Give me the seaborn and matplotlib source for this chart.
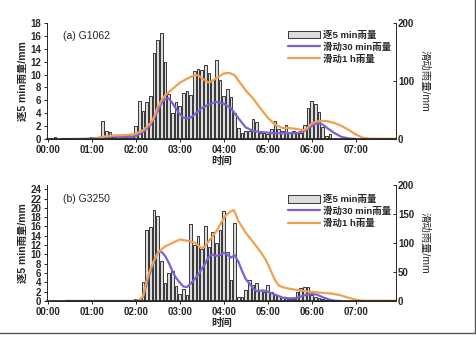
import matplotlib
matplotlib.use('Agg')
import matplotlib.pyplot as plt
import seaborn as sns
from matplotlib.patches import Patch
from matplotlib.lines import Line2D

# ---------------- data (time in minutes after 00:00) ----------------
a_bar_t = [10, 25, 60, 75, 80, 85, 90, 95, 100, 105, 110, 115, 120, 125, 130, 135, 140, 145,
           150, 155, 160, 165, 170, 175, 180, 185, 190, 195, 200, 205, 210, 215, 220, 225,
           230, 235, 240, 245, 250, 255, 260, 265, 270, 275, 280, 285, 290, 295, 300, 305,
           310, 315, 320, 325, 330, 335, 340, 345, 350, 355, 360, 365, 370, 375, 380, 385, 445]
a_bar_v = [0.25, 0.1, 0.3, 2.8, 1.3, 1.1, 0.3, 0.4, 0.3, 0.5, 0.6, 0.5, 2.0, 5.9, 4.3, 5.8, 6.7, 13.4,
           15.3, 16.5, 11.9, 7.0, 4.1, 5.7, 5.1, 7.2, 7.4, 6.9, 10.6, 10.8, 10.7, 11.5, 10.2, 9.2,
           12.2, 9.1, 6.6, 7.8, 6.5, 4.0, 1.7, 0.9, 1.3, 1.2, 3.1, 2.6, 1.0, 0.9, 0.7, 1.5,
           2.8, 1.5, 1.2, 2.1, 1.1, 1.2, 1.1, 1.0, 2.2, 4.8, 5.9, 5.4, 4.2, 1.8, 0.5, 0.8, 0.2]
a_30_t = [20, 40, 60, 70, 80, 90, 100, 110, 120, 130, 140, 150, 155, 160, 165, 170, 175, 180,
          185, 190, 195, 200, 210, 220, 230, 240, 250, 260, 270, 280, 290, 300, 310, 320, 330,
          340, 350, 360, 365, 370, 375, 380, 390, 400, 410, 420]
a_30_v = [0, 0, 0.5, 2, 4, 4.5, 3.5, 3, 5, 12, 24, 48, 62, 69, 70, 62, 52, 43,
          37, 35, 37, 42, 53, 60, 64, 61, 53, 36, 20, 14, 12, 11, 10, 10, 10,
          10, 14, 22, 26, 27, 25, 20, 11, 4, 1, 0]
a_60_t = [58, 70, 80, 90, 100, 110, 120, 130, 140, 145, 150, 155, 160, 170, 180, 190, 200, 205,
          210, 220, 230, 240, 248, 255, 260, 270, 280, 290, 300, 310, 320, 330, 340, 350, 355,
          360, 370, 380, 390, 400, 410, 420, 430, 440, 475]
a_60_v = [0, 2, 5, 6, 6.5, 7, 9, 15, 27, 38, 55, 66, 75, 86, 97, 104, 110, 110,
          105, 97, 105, 113, 114, 110, 101, 84, 70, 53, 37, 25, 19, 19, 17, 15, 20,
          27, 31, 31, 28, 23, 16, 8, 2, 0.5, 0.5]

b_bar_t = [120, 125, 130, 135, 140, 145, 150, 155, 160, 165, 170, 175, 180, 185, 190, 195, 200,
           205, 210, 215, 220, 225, 230, 235, 240, 245, 250, 255, 260, 265, 270, 275, 280, 285,
           290, 295, 300, 305, 310, 315, 320, 325, 330, 335, 340, 345, 350, 355, 360, 365, 370,
           375, 380]
b_bar_v = [0.5, 0.2, 4.0, 15.3, 15.9, 19.6, 18.3, 8.6, 3.8, 6.0, 6.5, 3.2, 1.6, 2.5, 1.2, 16.5, 12.0,
           13.9, 11.2, 16.0, 11.7, 14.9, 12.4, 15.3, 19.3, 10.5, 4.5, 16.7, 0.9, 0.8, 2.4, 4.5, 3.4, 3.9,
           2.4, 2.0, 3.4, 2.0, 1.3, 1.1, 0.8, 0.6, 0.4, 0.4, 2.0, 2.7, 2.9, 3.1, 1.3, 0.9, 0.6,
           0.4, 0.3]
b_30_t = [25, 60, 90, 120, 125, 130, 135, 140, 145, 150, 155, 160, 165, 170, 175, 180, 185, 190,
          195, 200, 205, 210, 215, 220, 225, 230, 235, 240, 245, 250, 255, 260, 265, 270, 275,
          280, 285, 290, 295, 300, 310, 320, 330, 340, 350, 360, 367, 376, 386, 392, 400]
b_30_v = [0, 0, 0, 0, 1, 7, 30, 50, 68, 84, 85, 78, 66, 52, 40, 32, 25, 24,
          30, 37, 45, 55, 65, 77, 80, 78, 79, 83, 80, 75, 79, 68, 52, 38, 30,
          22, 17, 18, 18, 16, 11, 6, 4.6, 5, 10, 12, 11, 6, 1.7, 0.5, 0]
b_60_t = [58, 90, 120, 125, 130, 135, 140, 145, 150, 155, 160, 170, 180, 190, 200, 210, 215,
          220, 225, 230, 240, 245, 250, 254, 260, 265, 270, 276, 283, 290, 297, 303, 310, 315,
          320, 330, 345, 358, 372, 386, 399, 413, 422, 430, 475]
b_60_v = [0, 0, 0, 2, 8, 36, 55, 70, 82, 89, 94, 100, 106, 104, 101, 91, 95,
          104, 112, 120, 143, 150, 155, 157, 138, 128, 118, 108, 97, 85, 72, 56, 36, 27,
          24, 21, 18, 16, 14.4, 13, 10, 4.6, 1.7, 0.5, 0.5]

hour_ticks = [0, 60, 120, 180, 240, 300, 360, 420]
hour_labels = ['00:00', '01:00', '02:00', '03:00', '04:00', '05:00', '06:00', '07:00']
panel_titles = ['(a) G1062', '(b) G3250']
legend_labels = ['逐5 min雨量', '滑动30 min雨量', '滑动1 h雨量']
left_label = '逐5 min雨量/mm'
right_label = '滑动雨量/mm'
x_label = '时间'

PURPLE = '#7b62d4'
ORANGE = '#f0a04e'
BAR_FC = '#dcdcdc'
BAR_EC = '#1a1a1a'

sns.set_theme(style='ticks')
plt.rcParams['font.family'] = ['Liberation Sans', 'Noto Sans CJK SC']
plt.rcParams['axes.unicode_minus'] = False

fig = plt.figure(figsize=(4.76, 3.38), dpi=100)
W = 0.7332
rects = [[0.0987, 0.5888, W, 0.343], [0.0987, 0.1095, W, 0.343]]
panels = [
    (a_bar_t, a_bar_v, a_30_t, a_30_v, a_60_t, a_60_v, 18, list(range(0, 19, 2)), [0, 100, 200], 0.888, 0.937),
    (b_bar_t, b_bar_v, b_30_t, b_30_v, b_60_t, b_60_v, 24.9, list(range(0, 25, 2)), [0, 50, 100, 150, 200], 0.877, 0.918),
]

for i, (rect, p) in enumerate(zip(rects, panels)):
    bt, bv, t30, v30, t60, v60, ymax, yt, yrt, ty, ly = p
    ax = fig.add_axes(rect)
    sns.barplot(x=bt, y=bv, native_scale=True, width=0.75, color=BAR_FC, saturation=1,
                edgecolor=BAR_EC, linewidth=0.6, errorbar=None, ax=ax)
    ax.set_xlim(-1, 475)
    ax.set_ylim(0, ymax)
    ax.set_yticks(yt)
    ax.set_xticks(hour_ticks)
    ax.set_xticklabels(hour_labels)
    ax.tick_params(axis='both', labelsize=7, length=2.5, width=0.7, pad=1.5)
    for lab in ax.get_xticklabels() + ax.get_yticklabels():
        lab.set_fontweight('bold')
    ax.set_ylabel(left_label, fontsize=7.5, fontweight='bold', labelpad=2)
    ax.set_xlabel(x_label, fontsize=7.5, fontweight='bold', labelpad=1)
    ax.spines['top'].set_visible(False)
    ax.spines['right'].set_visible(False)
    for s in ['left', 'bottom']:
        ax.spines[s].set_linewidth(0.7)
    ax.text(0.046, ty, panel_titles[i], transform=ax.transAxes, fontsize=7.5, va='center', ha='left')

    axr = ax.twinx()
    sns.lineplot(x=t30, y=v30, color=PURPLE, linewidth=1.6, ax=axr)
    sns.lineplot(x=t60, y=v60, color=ORANGE, linewidth=1.6, ax=axr)
    axr.set_xlim(-1, 475)
    axr.set_ylim(0, 200)
    axr.set_yticks(yrt)
    axr.tick_params(axis='y', labelsize=7, length=2.5, width=0.7, pad=1.5, direction='in')
    for lab in axr.get_yticklabels():
        lab.set_fontweight('bold')
    axr.set_ylabel(right_label, fontsize=7.5, rotation=270, labelpad=11)
    axr.spines['top'].set_visible(False)
    axr.spines['left'].set_visible(False)
    axr.spines['right'].set_linewidth(0.7)

    handles = [Patch(facecolor=BAR_FC, edgecolor=BAR_EC, linewidth=0.6),
               Line2D([], [], color=PURPLE, linewidth=1.6),
               Line2D([], [], color=ORANGE, linewidth=1.6)]
    leg = axr.legend(handles, legend_labels, loc='upper left',
                     bbox_to_anchor=((288 - 47) / 349, ly), frameon=False,
                     fontsize=6.8, handlelength=3.4, handleheight=0.9, handletextpad=0.3,
                     labelspacing=0.3, borderaxespad=0, borderpad=0)
    for txt in leg.get_texts():
        txt.set_fontweight('bold')

# figure border (right and bottom edges)
fig.add_artist(Line2D([0.997, 0.997], [0.015, 1.0], transform=fig.transFigure, color='#555555', linewidth=1))
fig.add_artist(Line2D([0.0, 0.997], [0.015, 0.015], transform=fig.transFigure, color='#555555', linewidth=1))

fig.savefig('out.png', dpi=100)
